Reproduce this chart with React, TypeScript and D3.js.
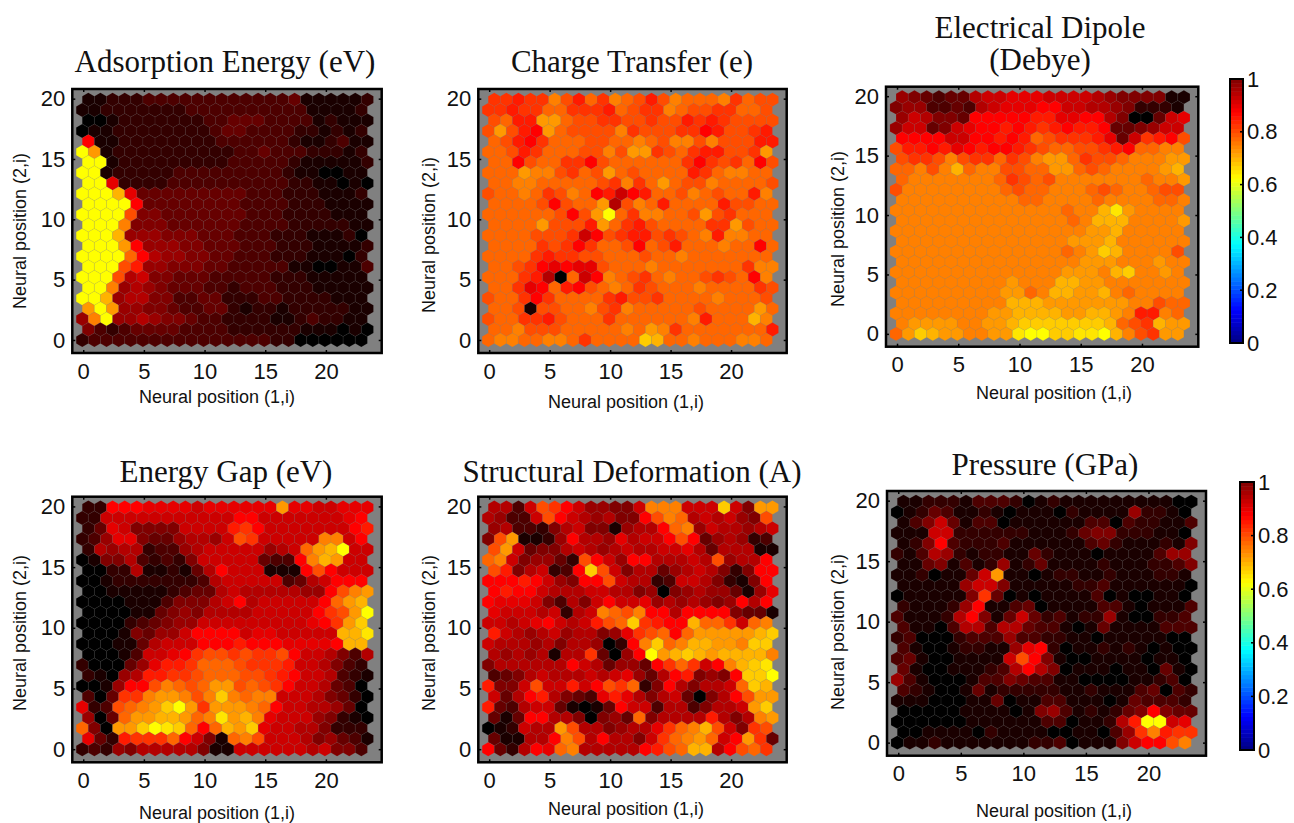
import * as d3 from 'd3';
import React, { useRef, useEffect } from 'react';

// cell shades, top row first.
// one character per neuron: 0 = black, a = pure red, k = yellow
const adsorptionRows = [
  "112223 333333 333334 111112",
  "112222 222333 333333 311112",
  "001222 222233 444333 312111",
  "011222 222223 443333 221212",
  "a11222 222223 333332 112311",
  "kg1222 222222 233433 322212",
  "kk1222 222222 333332 111112",
  "kk1222 223333 333332 110011",
  "kk9222 233333 333332 211010",
  "kkkh94 444444 443332 221112",
  "kkkka4 444444 433332 221111",
  "kkkkd5 544444 443332 222111",
  "kkkf55 544444 433332 222211",
  "kkkh66 655544 433322 211120",
  "kkkga6 665544 433322 211112",
  "kkkkea 766554 433322 211102",
  "kkkdb6 655544 333331 100113",
  "kkkd78 554443 333322 211111",
  "kkf676 544433 233322 211111",
  "kkh677 553344 222332 222111",
  "gkg665 543344 212212 222211",
  "6fk667 655433 222211 232211",
  "532344 443333 222222 111010",
  "233333 333333 333322 000000",
];

const chargeRows = [
  "ccbccf dbecfe dbdfee efcedd",
  "ccbcce ecccbe dccfed dcceed",
  "debbgg eddccd dcddbc bcdddd",
  "dgdbag eddddf cdddcc abddcb",
  "edbace eeddee fedffd fdddbb",
  "eedbce eeddfd ggcdec bbddcg",
  "eeadee ccadee eeeeca cdcead",
  "eeegff dcedge deeeeb ceffee",
  "eeffee eeedcf cegedd feeeed",
  "deefec dfeab8 abeedf edeebf",
  "eeeeda deeg7d febeee ebddee",
  "eeeeee dadgke cffeed gdceee",
  "eeeegd ddbgec bdeeee ccgdee",
  "eeeedd dc8adc bbdcde fbffee",
  "eeeecd caceed aedbee efeeae",
  "eeeecb ccddee edeefe eeeeee",
  "eedca9 a99dee efeeee eeecff",
  "eeecb7 0e8afe dcefee dcdeaf",
  "eec9ae badefe cdeeef eeeecd",
  "deecac eeeecb ddceee efeeed",
  "eed1dd eefdcf eeeeed eeeege",
  "deeccb deeece eeeeef beeehf",
  "eefddd eeeeef egfcee eeeeeb",
  "effeef feceee eiheef eeeffe",
];

const dipoleRows = [
  "654344 788999 888876 555511",
  "566334 378999 aa8877 652221",
  "687554 aaaaab b99aa7 500489",
  "688458 9aabab cbabba 445688",
  "aaaa88 aababe dcccb9 48cbad",
  "dbbab9 abaabc deeddc baeeff",
  "dccdfd ccecdf ggecdd efffgg",
  "eefdfh effdde eggede ffffgh",
  "efffff ffecde dfffff ffeffg",
  "dfffff fffede efffed effedd",
  "ffffff ffffee ffffef fffeef",
  "ffffff ffffff ffeffh jgffff",
  "ffffff ffffff ffefhh hffffg",
  "ffffff ffffff ffffgg hfffff",
  "ffffff ffffff ffgggh ffffff",
  "ffffff ffffff ffefgi hffffd",
  "ffffff ffffff fffggg fffgff",
  "ffffff ffffff ffgggf hiffgf",
  "ffffff fffgff fhhggf ffffff",
  "ffffff fffgge fhhggh feffff",
  "ffffff fffhhh gggggg gffdee",
  "ffffff ffgghh hhgghh gfbbfe",
  "fggggf fgghii iiiiih edchgg",
  "egihgg ffggjk kiijjk hfdcgg",
];

const gapRows = [
  "22aaa9 999899 9999g9 988999",
  "228888 888888 8aa888 88889a",
  "249855 558888 bca888 8888ab",
  "236995 446776 8dc888 88ff8a",
  "276772 336788 888678 eghk88",
  "015573 232588 888433 afhg88",
  "002271 12147a 888111 ada888",
  "001222 222237 888883 478aaa",
  "001111 123447 877777 66adfg",
  "000011 135557 8a7888 88aegh",
  "000011 456577 778888 8acdgk",
  "000023 456688 888888 89acgi",
  "000154 668aaa a89988 888hhj",
  "000114 7888aa abaaa9 999ahh",
  "000138 89acdd cdccda 887537",
  "200046 9bbcee edcccb 887532",
  "21067b bccdee eddcba 887321",
  "0016aa dfedeg gdedca 887430",
  "304ccf ggfdfi feff88 875420",
  "923def gikgcg ggfea8 877640",
  "604egg hhgefj ghf988 865210",
  "e50ggi kjieae hgi988 775222",
  "942bcc cea851 efd888 756431",
  "232657 777751 188888 878553",
];

const deformRows = [
  "7738dc a86655 8fff88 8i85gg",
  "76338d a87675 5adfe7 87865d",
  "673325 785516 77aef6 877678",
  "5dg112 6a7769 788ada 467623",
  "dg8455 787678 778897 477711",
  "ef8566 42da86 aa7778 7d677a",
  "db5782 3aid85 774678 7525aa",
  "aaaba8 65aad8 772388 75215a",
  "abaa87 778877 560567 664169",
  "a99985 3758a8 896767 656a7a",
  "988878 278fed faa7aa aa5441",
  "88789a 878bde icbaah eec8ef",
  "b87678 677569 cdeaeg gggghi",
  "877767 577602 afiefh hggfii",
  "767671 77c406 akghih ghhhhf",
  "577777 7a8746 64acec 8afhij",
  "345787 778789 647ab5 65aiik",
  "b558d8 8b8adc e25a75 778eih",
  "847ab7 5439b9 757840 57adgg",
  "b43788 41014a 883773 5778gi",
  "414aa7 750564 e57777 b757fg",
  "012877 gd7756 779cef hd85cd",
  "41177a fd7a77 58cefg e8agc4",
  "a427a9 ef7777 7abdeh h7adec",
];

const pressureRows = [
  "112221 333201 211111 111100",
  "012431 121011 102111 162210",
  "135841 330111 111330 322113",
  "111882 222221 112455 222110",
  "125a32 223111 111342 111215",
  "213762 122114 211101 111366",
  "114513 126124 111121 112235",
  "112011 48g110 122112 111221",
  "111116 885111 112231 111110",
  "011111 5c4010 111130 100110",
  "211126 a11340 111133 101113",
  "311127 a51484 231226 100223",
  "311037 737743 310141 111333",
  "230002 333633 221101 111100",
  "310012 21169a 201121 210100",
  "341001 1118da 510011 110110",
  "410011 1237a7 501110 110410",
  "631000 133543 311000 011230",
  "321001 412222 211211 134032",
  "111000 114011 331110 143332",
  "000001 111015 631212 45a544",
  "000000 111111 330112 7bkk89",
  "001111 021111 001103 6cfbcc",
  "011211 111112 230111 58aadf",
];

const xTickValues = [0, 5, 10, 15, 20];
const yTickValues = [0, 5, 10, 15, 20];
const colorbarTicks = [0, 0.2, 0.4, 0.6, 0.8, 1];
const shadeChars = "0123456789abcdefghijk";

const panels = [
  { title: ["Adsorption Energy (eV)"], rows: adsorptionRows, frame: [72.3, 381.7, 89, 353], titleX: 225, titleY: [72], xLabelX: 217, xLabelY: 403, yLabelX: 26, yLabelMid: 231 },
  { title: ["Charge Transfer (e)"], rows: chargeRows, frame: [478.3, 786.7, 89, 353], titleX: 632, titleY: [72], xLabelX: 626, xLabelY: 408, yLabelX: 435, yLabelMid: 235 },
  { title: ["Electrical Dipole", "(Debye)"], rows: dipoleRows, frame: [886, 1198.3, 86.7, 346.7], titleX: 1040, titleY: [38, 70], xLabelX: 1054, xLabelY: 399, yLabelX: 844, yLabelMid: 229 },
  { title: ["Energy Gap (eV)"], rows: gapRows, frame: [72.3, 381.7, 496.7, 762.3], titleX: 226, titleY: [482], xLabelX: 217, xLabelY: 819, yLabelX: 26, yLabelMid: 633 },
  { title: ["Structural Deformation (A)"], rows: deformRows, frame: [478.3, 786.7, 496.7, 762.3], titleX: 632, titleY: [482], xLabelX: 626, xLabelY: 815, yLabelX: 435, yLabelMid: 633 },
  { title: ["Pressure (GPa)"], rows: pressureRows, frame: [887, 1206, 491, 755.7], titleX: 1045, titleY: [475], xLabelX: 1054, xLabelY: 817, yLabelX: 844, yLabelMid: 632 },
];

const colorbars = [
  { left: 1230, right: 1243, top: 79, bottom: 343 },
  { left: 1240, right: 1254, top: 482, bottom: 750 },
];

const hotColor = d3.scaleLinear<string>().domain([0, 10, 20]).range(["#000000", "#ff0000", "#ffff00"]);
const jetColor = d3.scaleLinear<string>()
  .domain([0, 0.125, 0.375, 0.625, 0.875, 1])
  .range(["#00007f", "#0000ff", "#00ffff", "#ffff00", "#ff0000", "#7f0000"]);

const SANS = '"Liberation Sans", Arial, sans-serif';
const SERIF = '"Liberation Serif", "Times New Roman", serif';
const ROW_STEP = Math.sqrt(3) / 2;
const HEX_R = 1 / Math.sqrt(3);

function HexPanel({ panel }) {
  const [left, right, top, bottom] = panel.frame;
  const axisRef = useRef();

  const x = d3.scaleLinear().domain([-0.9, 24.6]).range([left, right]);
  const y = d3.scaleLinear().domain([-1.08, 20.8]).range([bottom, top]);

  // neurons sit on a hex grid, odd rows pushed half a step right
  const cells = [];
  const nRows = panel.rows.length;
  panel.rows.forEach((line, i) => {
    const row = nRows - 1 - i;
    line.replace(/ /g, "").split("").forEach((ch, col) => {
      cells.push({ cx: col + (row % 2 ? 0.5 : 0) - 0.08, cy: row * ROW_STEP, level: shadeChars.indexOf(ch) });
    });
  });

  const hexPath = (c) => {
    const pts = d3.range(6).map(k => {
      const a = Math.PI / 3 * k;
      return [x(c.cx + HEX_R * Math.sin(a)), y(c.cy + HEX_R * Math.cos(a))];
    });
    return d3.line()(pts) + "Z";
  };

  useEffect(() => {
    const g = d3.select(axisRef.current);
    g.selectAll("*").remove();

    const style = (sel) => {
      sel.select(".domain").remove();
      sel.selectAll("text").attr("font-family", SANS).attr("font-size", 22).attr("fill", "#111");
      sel.selectAll("line").attr("stroke", "#000").attr("stroke-width", 1.5);
    };

    // matlab style, ticks point inward on all four sides
    g.append("g").attr("transform", `translate(0,${bottom})`)
      .call(d3.axisBottom(x).tickValues(xTickValues).tickFormat(d3.format("d")).tickSize(-3).tickPadding(10))
      .call(style);
    g.append("g").attr("transform", `translate(0,${top})`)
      .call(d3.axisTop(x).tickValues(xTickValues).tickFormat(() => "").tickSize(-3))
      .call(style);
    g.append("g").attr("transform", `translate(${left},0)`)
      .call(d3.axisLeft(y).tickValues(yTickValues).tickFormat(d3.format("d")).tickSize(-3).tickPadding(7))
      .call(style);
    g.append("g").attr("transform", `translate(${right},0)`)
      .call(d3.axisRight(y).tickValues(yTickValues).tickFormat(() => "").tickSize(-3))
      .call(style);
  });

  return (
    <g>
      <rect x={left} y={top} width={right - left} height={bottom - top} fill="#808080" />
      {cells.map((c, i) => (
        <path key={i} d={hexPath(c)} fill={hotColor(c.level)} stroke="#808080" strokeOpacity={0.18} strokeWidth={0.6} />
      ))}
      <rect x={left} y={top} width={right - left} height={bottom - top} fill="none" stroke="#000" strokeWidth={2.5} />
      <g ref={axisRef}></g>
      {panel.title.map((t, i) => (
        <text key={t} x={panel.titleX} y={panel.titleY[i]} textAnchor="middle" fontFamily={SERIF} fontSize={31} fill="#111">{t}</text>
      ))}
      <text x={panel.xLabelX} y={panel.xLabelY} textAnchor="middle" fontFamily={SANS} fontSize={18} fill="#111">Neural position (1,i)</text>
      <text transform={`translate(${panel.yLabelX},${panel.yLabelMid}) rotate(-90)`} textAnchor="middle" fontFamily={SANS} fontSize={18} fill="#111">Neural position (2,i)</text>
    </g>
  );
}

function Colorbar({ bar }) {
  const axisRef = useRef();
  const scale = d3.scaleLinear().domain([0, 1]).range([bar.bottom, bar.top]);
  const steps = d3.range(64);

  useEffect(() => {
    const g = d3.select(axisRef.current);
    g.selectAll("*").remove();
    g.attr("transform", `translate(${bar.right},0)`)
      .call(d3.axisRight(scale).tickValues(colorbarTicks).tickFormat(d3.format("~g")).tickSize(0).tickPadding(4));
    g.select(".domain").remove();
    g.selectAll("text").attr("font-family", SANS).attr("font-size", 22).attr("fill", "#111");
  });

  return (
    <g>
      {steps.map(s => (
        <rect key={s} x={bar.left} width={bar.right - bar.left}
          y={scale((s + 1) / 64)} height={scale(s / 64) - scale((s + 1) / 64) + 0.5}
          fill={jetColor((s + 0.5) / 64)} />
      ))}
      <rect x={bar.left} y={bar.top} width={bar.right - bar.left} height={bar.bottom - bar.top} fill="none" stroke="#000" strokeWidth={2} />
      {colorbarTicks.slice(1, -1).map(t => (
        <line key={t} x1={bar.right - 3} x2={bar.right} y1={scale(t)} y2={scale(t)} stroke="#000" strokeWidth={1.5} />
      ))}
      <g ref={axisRef}></g>
    </g>
  );
}

export default function App() {
  return (
    <svg width={1294} height={823} style={{ position: "absolute", left: 0, top: 0, background: "#fff" }}>
      {panels.map(p => <HexPanel key={p.title[0]} panel={p} />)}
      {colorbars.map(b => <Colorbar key={b.top} bar={b} />)}
    </svg>
  );
}
